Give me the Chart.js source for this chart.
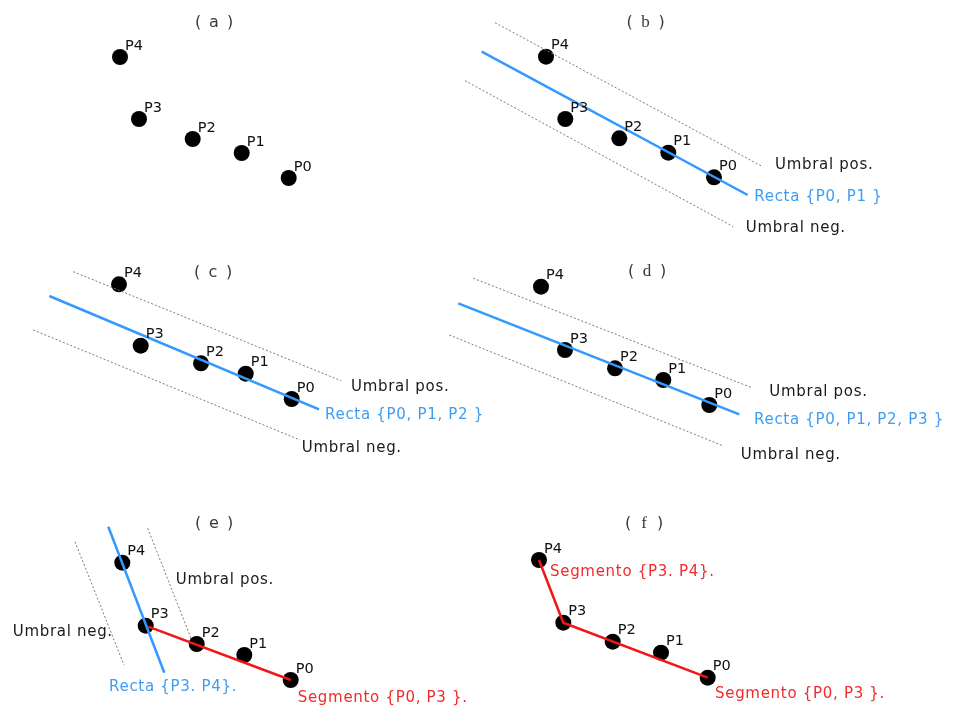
<!DOCTYPE html>
<html>
<head>
<meta charset="utf-8">
<script src="https://cdn.jsdelivr.net/npm/chart.js@4/dist/chart.umd.min.js"></script>
<style>
  html, body { margin: 0; padding: 0; background: #fff; }
  #c { display: block; }
</style>
</head>
<body>
<canvas id="c" width="954" height="709"></canvas>
<script>
// point names, P0..P4
const pointNames = ['P0', 'P1', 'P2', 'P3', 'P4'];

// point coordinates for each panel (P0..P4), in the drawing's units
const ptsA = [[288.7, 178], [241.7, 153], [192.7, 139], [139, 119], [120, 57]];
const ptsB = [[714, 177.3], [668.3, 152.7], [619.3, 138.3], [565.3, 119], [546, 56.7]];
const ptsC = [[291.7, 399], [245.7, 373.7], [201, 363.3], [140.7, 345.7], [119, 284.3]];
const ptsD = [[709.3, 405], [663.3, 380], [615, 368.3], [565, 350], [541, 286.7]];
const ptsE = [[290.7, 680], [244.3, 655], [196.7, 644], [145.7, 625.7], [122.3, 562.7]];
const ptsF = [[707.7, 677.7], [661, 652.7], [612.7, 641.7], [563.3, 622.7], [539, 560]];

// fitted lines (blue)
const rectaB = [[481.7, 51.7], [747.7, 195]];
const rectaC = [[49.3, 296], [319, 409.3]];
const rectaD = [[458.3, 303.3], [739.3, 414.3]];
const rectaE = [[108.3, 526.7], [164.3, 672.7]];

// thresholds (dotted)
const umbralLines = [
  [[495, 22.7], [762.7, 166.7]], [[465, 80.7], [733.3, 226.7]],
  [[73.3, 271.7], [341, 380.7]], [[33.3, 330], [300, 440]],
  [[473.3, 278.3], [751.7, 387.7]], [[449.3, 335], [722.7, 445.7]],
  [[147.7, 528.3], [191.7, 640]], [[75, 541.7], [124, 665]]
];

// segments (red)
const segE = [[148.3, 626.7], [290.7, 680]];
const segF = [[539, 560], [563.3, 622.7], [707.7, 677.7]];

// panel titles (s = sans letter, m = serif letter)
const titleLetters = ['a', 'b', 'c', 'd', 'e', 'f'];
const titleStyle = ['s', 'm', 's', 'm', 's', 'm'];
const titlePos = [[214, 23], [645.5, 23], [213, 273], [647, 272], [214, 524], [644, 524]];

// annotation texts
const notes = [
  ['Umbral pos.', 775, 165, 'k'], ['Recta {P0, P1 }', 754.3, 196.7, 'b'], ['Umbral neg.', 745.7, 227.7, 'k'],
  ['Umbral pos.', 351, 386.7, 'k'], ['Recta {P0, P1, P2 }', 325, 415, 'b'], ['Umbral neg.', 301.7, 447.7, 'k'],
  ['Umbral pos.', 769.3, 391.7, 'k'], ['Recta {P0, P1, P2, P3 }', 754, 420, 'b'], ['Umbral neg.', 740.7, 455, 'k'],
  ['Umbral pos.', 175.7, 580, 'k'], ['Umbral neg.', 12.7, 631.7, 'k'],
  ['Recta {P3. P4}.', 109, 687.3, 'b'], ['Segmento {P0, P3 }.', 297.7, 698.3, 'r'],
  ['Segmento {P3. P4}.', 550, 571.7, 'r'], ['Segmento {P0, P3 }.', 715, 694, 'r']
];

const BLUE = '#3399ff';
const RED = '#f21515';
const noteColors = { k: '#1a1a1a', b: '#3d9df5', r: '#f22a2a' };

const toXY = arr => arr.map(p => ({ x: p[0], y: p[1] }));
const allPanels = [ptsA, ptsB, ptsC, ptsD, ptsE, ptsF];

const datasets = [];

// points
allPanels.forEach(function(pts) {
  datasets.push({
    type: 'scatter',
    data: toXY(pts),
    pointRadius: 8,
    pointBackgroundColor: '#000',
    pointBorderWidth: 0,
    showLine: false,
    order: 3,
    clip: false
  });
});

// dotted thresholds
umbralLines.forEach(function(l) {
  datasets.push({
    type: 'line',
    data: toXY(l),
    borderColor: '#7a7a7a',
    borderWidth: 1,
    borderDash: [2, 2],
    pointRadius: 0,
    fill: false,
    order: 2,
    clip: false
  });
});

// blue lines
[rectaB, rectaC, rectaD, rectaE].forEach(function(l) {
  datasets.push({
    type: 'line',
    data: toXY(l),
    borderColor: BLUE,
    borderWidth: 2.5,
    pointRadius: 0,
    fill: false,
    order: 1,
    clip: false
  });
});

// red segments
[segE, segF].forEach(function(l) {
  datasets.push({
    type: 'line',
    data: toXY(l),
    borderColor: RED,
    borderWidth: 2.5,
    pointRadius: 0,
    fill: false,
    tension: 0,
    order: 1,
    clip: false
  });
});

// text labels drawn at data positions
const labelPlugin = {
  id: 'labels',
  afterDatasetsDraw(chart) {
    const ctx = chart.ctx;
    const xs = chart.scales.x, ys = chart.scales.y;
    ctx.save();
    ctx.textBaseline = 'middle';

    // point names
    ctx.fillStyle = '#111';
    ctx.font = '14.5px "DejaVu Sans"';
    ctx.textAlign = 'left';
    allPanels.forEach(function(pts) {
      pts.forEach(function(p, i) {
        ctx.fillText(pointNames[i], xs.getPixelForValue(p[0]) + 5, ys.getPixelForValue(p[1]) - 11);
      });
    });

    // titles: parentheses plus letter
    ctx.fillStyle = '#3a3a3a';
    ctx.textAlign = 'center';
    titleLetters.forEach(function(t, i) {
      const cx = xs.getPixelForValue(titlePos[i][0]);
      const cy = ys.getPixelForValue(titlePos[i][1]);
      ctx.font = '16px "DejaVu Sans"';
      ctx.fillText('(', cx - 16, cy);
      ctx.fillText(')', cx + 16, cy);
      ctx.font = titleStyle[i] === 'm' ? '17px "Liberation Serif"' : '16px "DejaVu Sans"';
      ctx.fillText(t, cx, cy);
    });

    // notes
    ctx.font = '15px "DejaVu Sans"';
    ctx.textAlign = 'left';
    if ('letterSpacing' in ctx) ctx.letterSpacing = '0.7px';
    notes.forEach(function(n) {
      ctx.fillStyle = noteColors[n[3]];
      ctx.fillText(n[0], xs.getPixelForValue(n[1]), ys.getPixelForValue(n[2]));
    });
    ctx.restore();
  }
};

new Chart(document.getElementById('c'), {
  type: 'scatter',
  data: { datasets: datasets },
  options: {
    responsive: false,
    animation: false,
    layout: { padding: 0, autoPadding: false },
    plugins: { legend: { display: false }, tooltip: { enabled: false } },
    scales: {
      x: { type: 'linear', min: 0, max: 954, display: false },
      y: { type: 'linear', min: 0, max: 709, reverse: true, display: false }
    }
  },
  plugins: [labelPlugin]
});
</script>
</body>
</html>
